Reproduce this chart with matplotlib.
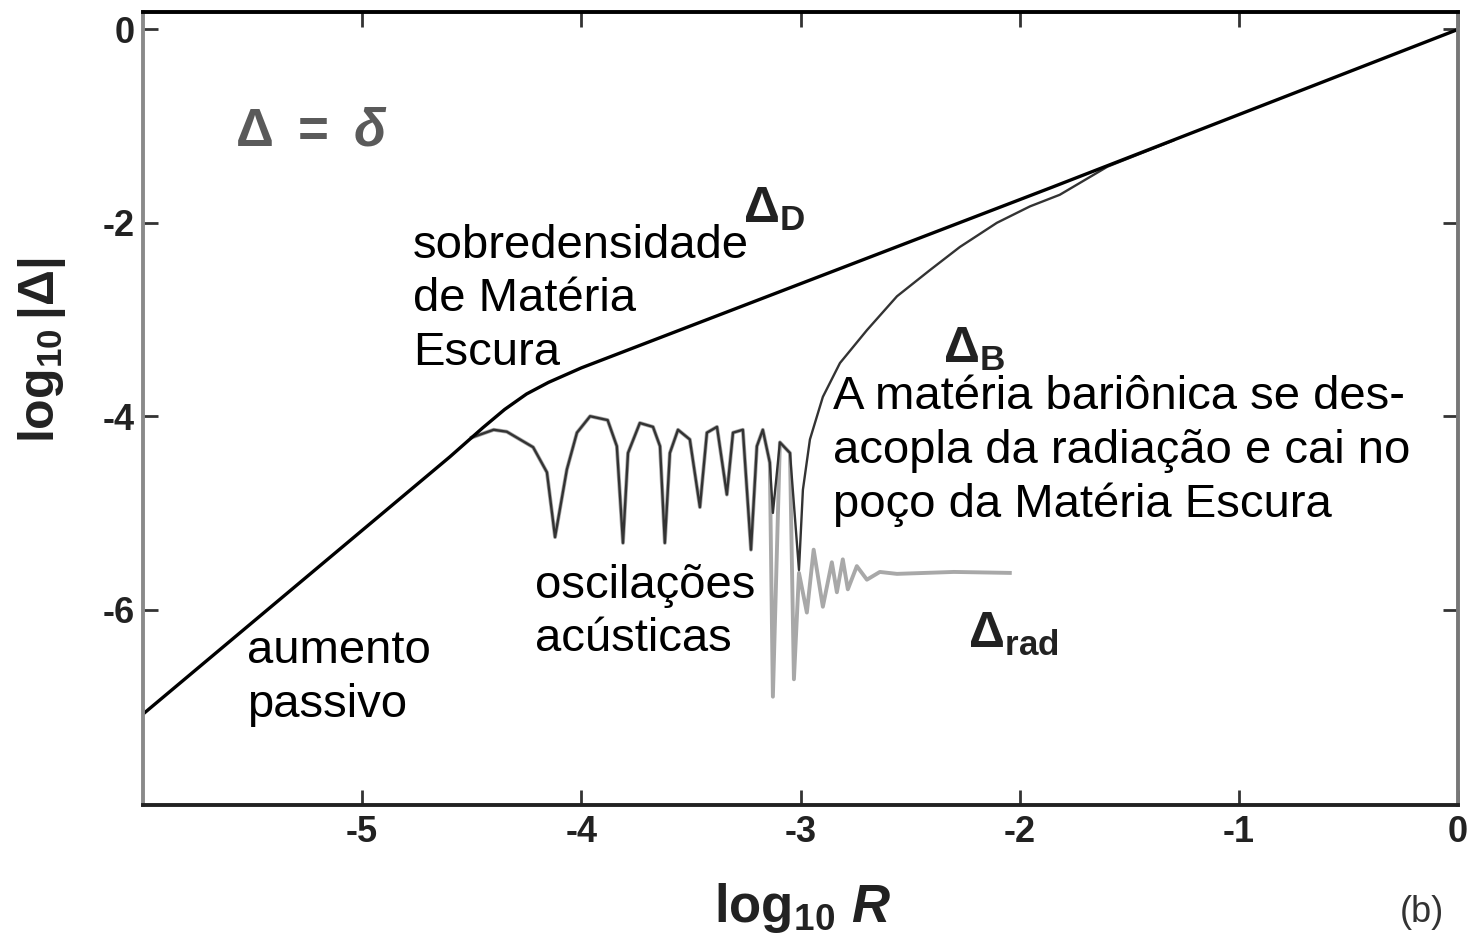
import numpy as np
import matplotlib
matplotlib.use("Agg")
from matplotlib import pyplot as plt
from matplotlib import font_manager

# fonte estreita para eixos (se existir)
nomes = {f.name for f in font_manager.fontManager.ttflist}
estreita = 'Liberation Sans Narrow' if 'Liberation Sans Narrow' in nomes else 'Liberation Sans'

plt.rcParams['axes.unicode_minus'] = False
plt.rcParams['mathtext.fontset'] = 'custom'
plt.rcParams['mathtext.rm'] = estreita + ':bold'
plt.rcParams['mathtext.it'] = estreita + ':italic:bold'
plt.rcParams['mathtext.bf'] = estreita + ':bold'

# Delta_D (materia escura)
D_x = [-6.0, -4.6, -4.45, -4.35, -4.25, -4.15, -4.0, -3.46, -1.85, 0.0]
D_y = [-7.08, -4.42, -4.12, -3.93, -3.77, -3.65, -3.50, -3.03, -1.63, 0.0]

# oscilacoes acusticas (comum a Delta_B e Delta_rad)
osc_x = [-4.50, -4.40, -4.34, -4.22, -4.157, -4.12, -4.066, -4.02, -3.96, -3.88,
         -3.838, -3.81, -3.787, -3.733, -3.673, -3.641, -3.619, -3.596, -3.559,
         -3.505, -3.459, -3.427, -3.381, -3.336, -3.308, -3.263, -3.226, -3.199,
         -3.172, -3.14]
osc_y = [-4.22, -4.14, -4.16, -4.32, -4.58, -5.25, -4.55, -4.17, -4.00, -4.04,
         -4.31, -5.31, -4.38, -4.07, -4.11, -4.31, -5.31, -4.38, -4.14,
         -4.24, -4.94, -4.17, -4.11, -4.81, -4.17, -4.14, -5.38, -4.31,
         -4.14, -4.48]

# Delta_B depois do desacoplamento
B_x = [-3.126, -3.094, -3.048, -3.007, -2.989, -2.957, -2.898, -2.82, -2.697,
       -2.56, -2.41, -2.273, -2.104, -1.953, -1.817, -1.6, -1.3]
B_y = [-5.0, -4.27, -4.38, -5.59, -4.76, -4.24, -3.80, -3.45, -3.11,
       -2.76, -2.49, -2.25, -2.00, -1.83, -1.71, -1.42, -1.15]

# Delta_rad depois do desacoplamento
rad_x = [-3.126, -3.094, -3.048, -3.03, -3.007, -2.971, -2.94, -2.898, -2.857,
         -2.834, -2.807, -2.784, -2.743, -2.697, -2.638, -2.56, -2.3, -2.045]
rad_y = [-6.9, -4.27, -4.38, -6.72, -5.62, -6.03, -5.38, -5.97, -5.51,
         -5.82, -5.48, -5.79, -5.55, -5.69, -5.61, -5.63, -5.61, -5.62]

xticks = [-5, -4, -3, -2, -1, 0]
yticks = [0, -2, -4, -6]

W, H = 1479, 941
fig = plt.figure(figsize=(W/100, H/100), dpi=100)
ax = fig.add_axes([143/W, 1-805/H, (1458-143)/W, (805-12)/H])

ax.plot(osc_x + rad_x, osc_y + rad_y, color='#a8a8a8', lw=2.8)
ax.plot(osc_x + B_x, osc_y + B_y, color='#333333', lw=1.7)
ax.plot(D_x, D_y, color='black', lw=2.4)

ax.set_xlim(-6, 0)
ax.set_ylim(-8.02, 0.18)
ax.set_xticks(xticks)
ax.set_yticks(yticks)
ax.set_xticklabels([str(t) for t in xticks], fontfamily=estreita, fontweight='bold',
                   fontsize=26, color='#222222')
ax.set_yticklabels([str(t) for t in yticks], fontfamily=estreita, fontweight='bold',
                   fontsize=26, color='#222222')
ax.tick_params(direction='in', length=11, width=2, top=True, right=True, color='#333333')
ax.tick_params(axis='x', pad=7)
ax.tick_params(axis='y', pad=6)

for lado, cor in [('top', 'black'), ('bottom', '#222222'), ('left', '#8a8a8a'), ('right', '#777777')]:
    ax.spines[lado].set_color(cor)
    ax.spines[lado].set_linewidth(2.8)

# textos em portugues (va='baseline' -> linha de base da ultima linha)
fonte = dict(fontfamily='Liberation Sans', fontsize=34, color='black',
             ha='left', va='baseline', linespacing=1.28)
ax.text(-4.768, -3.47, 'sobredensidade\nde Matéria\nEscura', **fonte)
ax.text(-5.526, -7.106, 'aumento\npassivo', **fonte)
ax.text(-4.212, -6.43, 'oscilações\nacústicas', **fonte)
ax.text(-2.852, -5.04, 'A matéria bariônica se des-\nacopla da radiação e cai no\npoço da Matéria Escura', **fonte)

# rotulos das curvas
ax.text(-5.58, -1.2, r'$\Delta\ =\ \delta$', fontsize=38, color='#5a5a5a', ha='left', va='baseline')
ax.text(-3.263, -2.0, r'$\mathit{\Delta}_{\mathrm{D}}$', fontsize=36, color='#222222', ha='left', va='baseline')
ax.text(-2.35, -3.45, r'$\mathit{\Delta}_{\mathrm{B}}$', fontsize=36, color='#222222', ha='left', va='baseline')
ax.text(-2.236, -6.4, r'$\mathit{\Delta}_{\mathrm{rad}}$', fontsize=36, color='#222222', ha='left', va='baseline')

fig.text(42/W, 1-350/H, r'$\mathrm{log}_{10}\,|\mathit{\Delta}|$', rotation=90,
         fontsize=36, color='#222222', ha='center', va='center')
fig.text(803/W, 1-908/H, r'$\mathrm{log}_{10}\ R$', fontsize=38, color='#222222',
         ha='center', va='center')
fig.text(1422/W, 1-912/H, '(b)', fontsize=26, fontfamily=estreita, color='#333333',
         ha='center', va='center')

fig.savefig('out.png', dpi=100)
